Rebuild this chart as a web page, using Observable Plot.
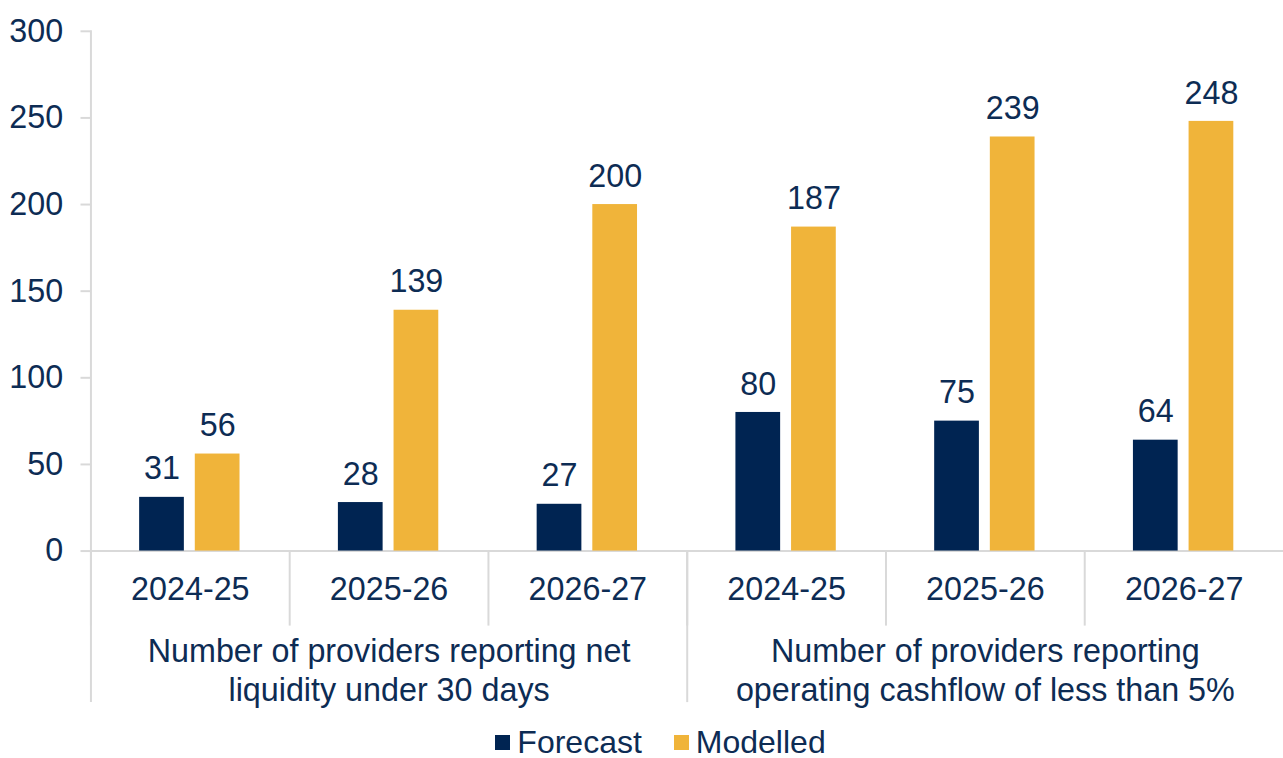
<!DOCTYPE html>
<html>
<head>
<meta charset="utf-8">
<script src="https://cdn.jsdelivr.net/npm/d3@7"></script>
<script src="https://cdn.jsdelivr.net/npm/@observablehq/plot@0.6"></script>
<style>
  html, body { margin: 0; padding: 0; background: #fff; overflow: hidden; }
  body { font-family: "Liberation Sans", Arial, sans-serif; color: #0D2C54; width: 1283px; }
  #chart svg { display: block; }
  #legend { display: flex; justify-content: center; align-items: center; margin-left: 38px; margin-top: 14px; height: 24px; line-height: 24px; font-size: 32px; color: #0D2C54; }
  .item { display: flex; align-items: center; }
  .sw { width: 15px; height: 15px; margin-right: 7px; margin-top: 2px; }
  .item + .item { margin-left: 32px; }
</style>
</head>
<body>
<div id="chart"></div>
<div id="legend"></div>
<script>
// Data
const groupIndex = [0, 1, 2, 3, 4, 5];
const years = ["2024-25", "2025-26", "2026-27", "2024-25", "2025-26", "2026-27"];
const seriesNames = ["Forecast", "Modelled"];
const forecast = [31, 28, 27, 80, 75, 64];
const modelled = [56, 139, 200, 187, 239, 248];
const groupLabels = [
  {g: 1, label: "Number of providers reporting net\nliquidity under 30 days"},
  {g: 4, label: "Number of providers reporting\noperating cashflow of less than 5%"}
];
const colors = ["#002452", "#F0B43A"];
const yTicks = [0, 50, 100, 150, 200, 250, 300];

const data = [];
groupIndex.forEach((g, i) => {
  data.push({g, series: "Forecast", value: forecast[i]});
  data.push({g, series: "Modelled", value: modelled[i]});
});

const textColor = "#0D2C54";
const gridColor = "#D9D9D9";
const fs = 32.5;

const chart = Plot.plot({
  width: 1291,
  height: 720,
  marginLeft: 90,
  marginRight: 0,
  marginTop: 31,
  marginBottom: 166,
  style: {fontFamily: "'Liberation Sans', Arial, sans-serif", fontSize: fs + "px", color: textColor, background: "#fff"},
  fx: {domain: groupIndex, paddingInner: 0, paddingOuter: 0, label: null},
  x: {domain: seriesNames, paddingInner: 0.193, paddingOuter: 0.86, axis: null},
  y: {domain: [0, 300], label: null},
  color: {domain: seriesNames, range: colors},
  marks: [
    // separators between year labels (each facet's left edge)
    Plot.frame({anchor: "left", stroke: gridColor, strokeWidth: 2, insetTop: 523, insetBottom: -74}),
    // tall separators at group boundaries
    Plot.frame({fx: () => 0, anchor: "left", stroke: gridColor, strokeWidth: 2, insetBottom: -151}),
    Plot.frame({fx: () => 3, anchor: "left", stroke: gridColor, strokeWidth: 2, insetTop: 523, insetBottom: -151}),
    Plot.axisY({ticks: yTicks, tickSize: 10, tickPadding: 18, stroke: gridColor, strokeWidth: 2, fill: textColor, fontSize: fs, label: null}),
    Plot.axisFx({anchor: "bottom", tickSize: 0, tickPadding: 26, tickFormat: (d) => years[d], fill: textColor, fontSize: fs, label: null}),
    Plot.ruleY([0], {stroke: gridColor, strokeWidth: 2}),
    Plot.barY(data, {fx: "g", x: "series", y: "value", fill: "series"}),
    Plot.text(data, {fx: "g", x: "series", y: "value", text: (d) => String(d.value), lineAnchor: "bottom", dy: -18, fill: textColor, fontSize: fs}),
    Plot.text(groupLabels, {fx: "g", text: "label", frameAnchor: "bottom", lineAnchor: "top", dy: 83, lineHeight: 1.22, fill: textColor, fontSize: fs})
  ]
});
document.getElementById("chart").appendChild(chart);

const legend = document.getElementById("legend");
seriesNames.forEach((s, i) => {
  const item = document.createElement("div");
  item.className = "item";
  const sw = document.createElement("span");
  sw.className = "sw";
  sw.style.background = colors[i];
  const t = document.createElement("span");
  t.textContent = s;
  item.appendChild(sw);
  item.appendChild(t);
  legend.appendChild(item);
});
</script>
</body>
</html>
